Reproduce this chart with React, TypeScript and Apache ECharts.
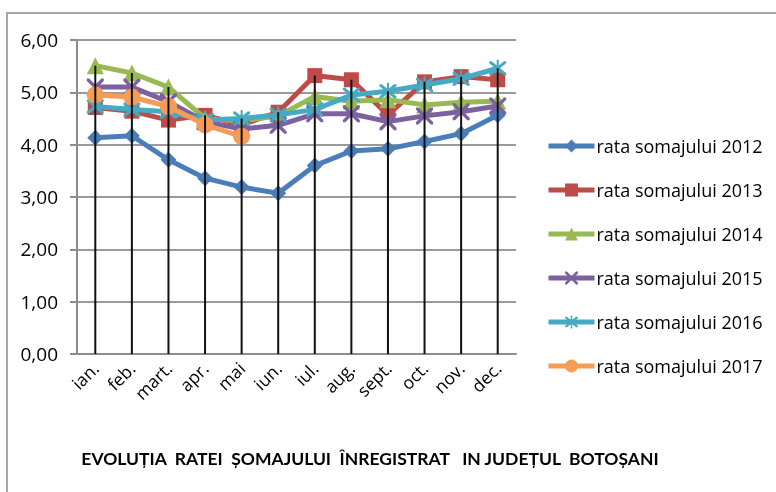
import React, { useEffect, useRef } from "react";
import * as echarts from "echarts";

const months = ["ian.", "feb.", "mart.", "apr.", "mai", "iun.", "iul.", "aug.", "sept.", "oct.", "nov.", "dec."];
const seriesNames = [
  "rata somajului 2012",
  "rata somajului 2013",
  "rata somajului 2014",
  "rata somajului 2015",
  "rata somajului 2016",
  "rata somajului 2017",
];
const rate2012 = [4.13, 4.17, 3.71, 3.36, 3.19, 3.07, 3.6, 3.88, 3.92, 4.06, 4.21, 4.56];
const rate2013 = [4.71, 4.64, 4.47, 4.56, 4.38, 4.62, 5.32, 5.24, 4.57, 5.2, 5.3, 5.24];
const rate2014 = [5.51, 5.37, 5.1, 4.5, 4.45, 4.55, 4.92, 4.83, 4.86, 4.76, 4.81, 4.83];
const rate2015 = [5.1, 5.1, 4.82, 4.44, 4.3, 4.37, 4.59, 4.59, 4.44, 4.55, 4.63, 4.74];
const rate2016 = [4.73, 4.67, 4.63, 4.47, 4.5, 4.57, 4.67, 4.95, 5.02, 5.14, 5.26, 5.46];
const rate2017 = [4.95, 4.91, 4.73, 4.38, 4.16, null, null, null, null, null, null, null];
const yTicks = [0, 1, 2, 3, 4, 5, 6];

const colors = ["#4A7EBB", "#BE4B48", "#98B954", "#7D60A0", "#46AAC5", "#F59D56"];
const X_PATH = "path://M0,0 L1.4,0 L5,3.6 L8.6,0 L10,0 L10,1.4 L6.4,5 L10,8.6 L10,10 L8.6,10 L5,6.4 L1.4,10 L0,10 L0,8.6 L3.6,5 L0,1.4 Z";
const STAR_PATH = "path://M0,0 L1.4,0 L5,3.6 L8.6,0 L10,0 L10,1.4 L6.4,5 L10,8.6 L10,10 L8.6,10 L5,6.4 L1.4,10 L0,10 L0,8.6 L3.6,5 L0,1.4 Z M4.4,-1 L5.6,-1 L5.6,11 L4.4,11 Z";
const symbols = ["diamond", "rect", "triangle", X_PATH, STAR_PATH, "circle"];
const symbolSizes = [16, 15, 17, 17, 17, 17];

const FONT = "'Open Sans', Lato, sans-serif";

export default function App() {
  const ref = useRef<HTMLDivElement>(null);
  useEffect(() => {
    if (!ref.current) return;
    const chart = echarts.init(ref.current, null, { renderer: "svg" });
    const all = [rate2012, rate2013, rate2014, rate2015, rate2016, rate2017];
    const maxVals = months.map((_, i) =>
      Math.max(...all.map((s) => (s[i] == null ? -Infinity : (s[i] as number))))
    );
    const lineSeries = all.map((data, k) => ({
      name: seriesNames[k],
      type: "line",
      data,
      symbol: symbols[k],
      symbolSize: symbolSizes[k],
      showAllSymbol: true,
      lineStyle: { width: 5, color: colors[k] },
      itemStyle: { color: colors[k], borderWidth: 0 },
      z: 2 + k * 0.01,
    }));
    chart.setOption({
      animation: false,
      color: colors,
      grid: { left: 77, right: 260, top: 40, bottom: 138, containLabel: false },
      legend: {
        orient: "vertical",
        left: 541,
        top: 131,
        itemGap: 24,
        itemWidth: 46,
        itemHeight: 16,
        lineStyle: { width: 5 },
        data: seriesNames,
        textStyle: { fontFamily: FONT, fontSize: 18, lineHeight: 20, color: "#000", padding: [0, 0, 0, -3] },
      },
      xAxis: {
        type: "category",
        data: months,
        boundaryGap: true,
        axisLine: { lineStyle: { color: "#8c8c8c", width: 2 } },
        axisTick: { show: false },
        axisLabel: {
          rotate: 45,
          interval: 0,
          margin: 11,
          fontFamily: FONT,
          fontSize: 17.5,
          color: "#000",
        },
      },
      yAxis: {
        type: "value",
        min: yTicks[0],
        max: yTicks[yTicks.length - 1],
        interval: 1,
        axisLine: { show: true, lineStyle: { color: "#8c8c8c", width: 2 } },
        axisTick: { show: true, length: 7, lineStyle: { color: "#8c8c8c", width: 2 } },
        splitLine: { lineStyle: { color: "#9a9a9a", width: 2 } },
        axisLabel: {
          margin: 19,
          fontFamily: FONT,
          fontSize: 19,
          color: "#000",
          formatter: (v: number) => v.toFixed(2).replace(".", ","),
        },
      },
      series: [
        ...lineSeries,
        {
          name: "drop",
          type: "bar",
          data: maxVals,
          barWidth: 2,
          itemStyle: { color: "#111" },
          z: 5,
          silent: true,
        },
      ],
      graphic: [
        {
          type: "rect",
          shape: { x: 7, y: 13, width: 800, height: 500 },
          style: { fill: "none", stroke: "#a6a6a6", lineWidth: 2 },
          silent: true,
        },
        {
          type: "text",
          x: 370,
          y: 458,
          style: {
            text: "EVOLUȚIA  RATEI  ȘOMAJULUI  ÎNREGISTRAT   IN JUDEȚUL  BOTOȘANI",
            fontFamily: "Lato, sans-serif",
            fontWeight: "bold",
            fontSize: 17.5,
            fill: "#000",
            align: "center",
            verticalAlign: "middle",
          },
        },
      ],
    });
    return () => chart.dispose();
  }, []);
  return <div ref={ref} style={{ position: "fixed", left: 0, top: 0, width: 776, height: 492 }} />;
}
